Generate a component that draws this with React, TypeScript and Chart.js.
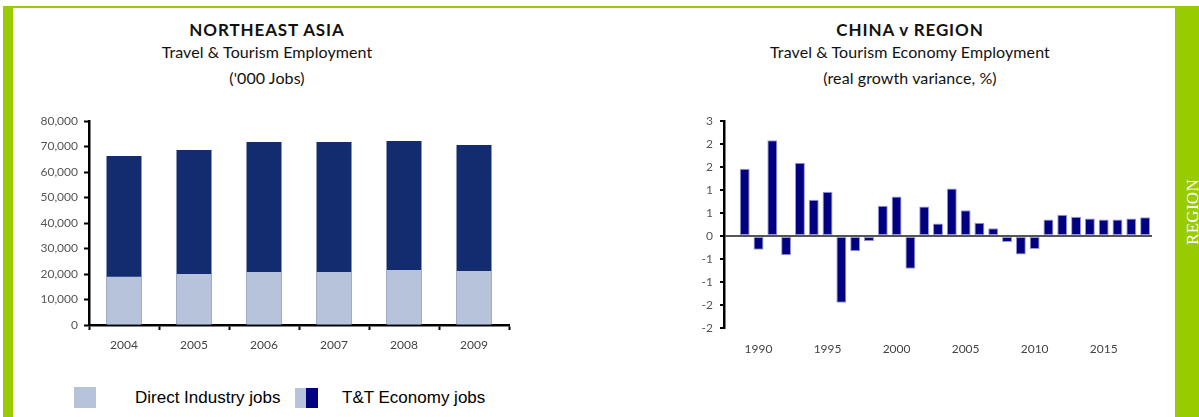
import React, { useEffect, useRef } from "react";
import { Chart, registerables } from "chart.js";

Chart.register(...registerables);

// ---- Left chart data ----
const jobYears = ["2004", "2005", "2006", "2007", "2008", "2009"];
const directIndustryJobs = [18900, 20000, 20800, 20800, 21600, 21200];
const ttEconomyJobs = [66300, 68600, 71800, 71800, 72200, 70600];

// ---- Right chart data ----
const growthYears = [
  "1988", "1989", "1990", "1991", "1992", "1993", "1994", "1995", "1996", "1997",
  "1998", "1999", "2000", "2001", "2002", "2003", "2004", "2005", "2006", "2007",
  "2008", "2009", "2010", "2011", "2012", "2013", "2014", "2015", "2016", "2017", "2018",
];
const growthVariance = [
  null, 1.46, -0.3, 2.08, -0.42, 1.59, 0.79, 0.96, -1.45, -0.33,
  -0.11, 0.66, 0.86, -0.71, 0.64, 0.27, 1.03, 0.56, 0.29, 0.17,
  -0.13, -0.4, -0.28, 0.36, 0.46, 0.42, 0.38, 0.36, 0.36, 0.38, 0.41,
];
const shownYearLabels = ["1990", "1995", "2000", "2005", "2010", "2015"];

const GREEN = "#99CC00";
const FONT = "Lato, 'Open Sans', sans-serif";
const LIGHT = "#B6C3DA";
const DARK = "#132C6F";

function LeftChart() {
  const ref = useRef<HTMLCanvasElement>(null);
  useEffect(() => {
    const chart = new Chart(ref.current!, {
      type: "bar",
      data: {
        labels: jobYears,
        datasets: [
          {
            label: "Direct Industry jobs",
            data: directIndustryJobs,
            backgroundColor: LIGHT,
            order: 0,
            stack: "s",
            barPercentage: 0.5,
            categoryPercentage: 1,
          },
          {
            label: "T&T Economy jobs",
            data: ttEconomyJobs,
            backgroundColor: DARK,
            order: 1,
            stack: "s",
            barPercentage: 0.5,
            categoryPercentage: 1,
          },
        ],
      },
      options: {
        responsive: false,
        animation: false,
        devicePixelRatio: 1,
        layout: { padding: { left: 0, right: 12, top: 21, bottom: 0 } },
        plugins: { legend: { display: false }, tooltip: { enabled: false } },
        scales: {
          x: {
            stacked: true,
            grid: {
              offset: true,
              drawOnChartArea: false,
              tickLength: 5,
              tickWidth: 2,
              tickColor: "#000",
            },
            border: { display: true, color: "#000", width: 2.5 },
            ticks: { color: "#444", font: { family: FONT, size: 12 }, padding: 8, maxRotation: 0 },
            afterFit: (s: any) => { s.height = 35; },
          },
          y: {
            stacked: false,
            min: 0,
            max: 80000,
            grid: {
              drawOnChartArea: false,
              tickLength: 5,
              tickWidth: 2,
              tickColor: "#000",
            },
            border: { display: true, color: "#000", width: 2.5 },
            ticks: {
              stepSize: 10000,
              color: "#555",
              font: { family: FONT, size: 12 },
              padding: 6,
              callback: (v: any) => Number(v).toLocaleString("en-US"),
            },
            afterFit: (s: any) => { s.width = 76; },
          },
        },
      },
    });
    return () => chart.destroy();
  }, []);
  return (
    <canvas
      ref={ref}
      width={508}
      height={260}
      style={{ position: "absolute", left: 13, top: 100, width: 508, height: 260 }}
    />
  );
}

function RightChart() {
  const ref = useRef<HTMLCanvasElement>(null);
  useEffect(() => {
    const chart = new Chart(ref.current!, {
      type: "bar",
      data: {
        labels: growthYears,
        datasets: [
          {
            label: "China v Region",
            data: growthVariance as any,
            backgroundColor: "#000080",
            borderColor: "rgba(110,110,200,0.7)",
            borderWidth: 1,
            borderSkipped: false,
            barPercentage: 0.72,
            categoryPercentage: 1,
          },
        ],
      },
      options: {
        responsive: false,
        animation: false,
        devicePixelRatio: 1,
        layout: { padding: { left: 0, right: 23, top: 21, bottom: 0 } },
        plugins: { legend: { display: false }, tooltip: { enabled: false } },
        scales: {
          x: {
            grid: { display: false, drawTicks: false },
            border: { display: false },
            ticks: {
              autoSkip: false,
              maxRotation: 0,
              color: "#444",
              font: { family: FONT, size: 12 },
              padding: 14,
              callback: function (this: any, v: any) {
                const l = this.getLabelForValue(v);
                return shownYearLabels.includes(l) ? l : "";
              },
            },
            afterFit: (s: any) => { s.height = 32; },
          },
          y: {
            min: -2,
            max: 2.5,
            z: 1,
            grid: {
              drawOnChartArea: true,
              color: (ctx: any) => (ctx.tick && ctx.tick.value === 0 ? "#555" : "rgba(0,0,0,0)"),
              lineWidth: 2,
              tickLength: 4,
              tickWidth: 2,
              tickColor: "#000",
            },
            border: { display: true, color: "#000", width: 2.5 },
            ticks: {
              stepSize: 0.5,
              color: "#555",
              font: { family: FONT, size: 12 },
              padding: 7,
              callback: (v: any) => {
                const n = Number(v);
                const r = Math.sign(n) * Math.round(Math.abs(n));
                return r === 0 ? "0" : String(r);
              },
            },
            afterFit: (s: any) => { s.width = 79; },
          },
        },
      },
    });
    return () => chart.destroy();
  }, []);
  return (
    <canvas
      ref={ref}
      width={530}
      height={260}
      style={{ position: "absolute", left: 645, top: 100, width: 530, height: 260 }}
    />
  );
}

function TitleBlock({ cx, lines }: { cx: number; lines: string[] }) {
  const tops = [21, 44, 70];
  return (
    <>
      {lines.map((t, i) => (
        <div
          key={i}
          style={{
            position: "absolute",
            left: cx - 200,
            width: 400,
            top: tops[i],
            textAlign: "center",
            fontFamily: FONT,
            fontWeight: i === 0 ? 700 : 400,
            fontSize: i === 0 ? 17 : 16,
            lineHeight: i === 0 ? "17px" : "16px",
            letterSpacing: i === 0 ? 0.9 : 0.1,
            color: "#111",
            whiteSpace: "nowrap",
          }}
        >
          {t}
        </div>
      ))}
    </>
  );
}

const legendText: React.CSSProperties = {
  position: "absolute",
  top: 388,
  fontFamily: "'Liberation Sans', Arial, sans-serif",
  fontSize: 17,
  lineHeight: "20px",
  color: "#000",
  whiteSpace: "nowrap",
};

export default function App() {
  return (
    <div
      style={{
        position: "absolute",
        left: 0,
        top: 0,
        width: 1199,
        height: 417,
        background: "#fff",
        overflow: "hidden",
      }}
    >
      <div style={{ position: "absolute", left: 3, top: 6, width: 1196, height: 2, background: GREEN }} />
      <div style={{ position: "absolute", left: 3, top: 6, width: 10, height: 411, background: GREEN }} />
      <div style={{ position: "absolute", left: 1175, top: 6, width: 24, height: 411, background: GREEN }} />
      <div
        style={{
          position: "absolute",
          left: 1192,
          top: 212,
          transform: "translate(-50%, -50%) rotate(-90deg)",
          color: "#fff",
          fontFamily: "'Liberation Serif', serif",
          fontSize: 17,
          lineHeight: "17px",
          whiteSpace: "nowrap",
          letterSpacing: 0.3,
        }}
      >
        REGION
      </div>

      <TitleBlock cx={267} lines={["NORTHEAST ASIA", "Travel & Tourism Employment", "('000 Jobs)"]} />
      <TitleBlock cx={910} lines={["CHINA v REGION", "Travel & Tourism Economy Employment", "(real growth variance, %)"]} />

      <LeftChart />
      <RightChart />

      {/* Legend */}
      <div style={{ position: "absolute", left: 74, top: 387, width: 22, height: 21, background: LIGHT }} />
      <div style={{ ...legendText, left: 135 }}>Direct Industry jobs</div>
      <div style={{ position: "absolute", left: 295, top: 388, width: 11, height: 20, background: LIGHT }} />
      <div style={{ position: "absolute", left: 306, top: 388, width: 12, height: 20, background: "#000080" }} />
      <div style={{ ...legendText, left: 342 }}>T&amp;T Economy jobs</div>
    </div>
  );
}
